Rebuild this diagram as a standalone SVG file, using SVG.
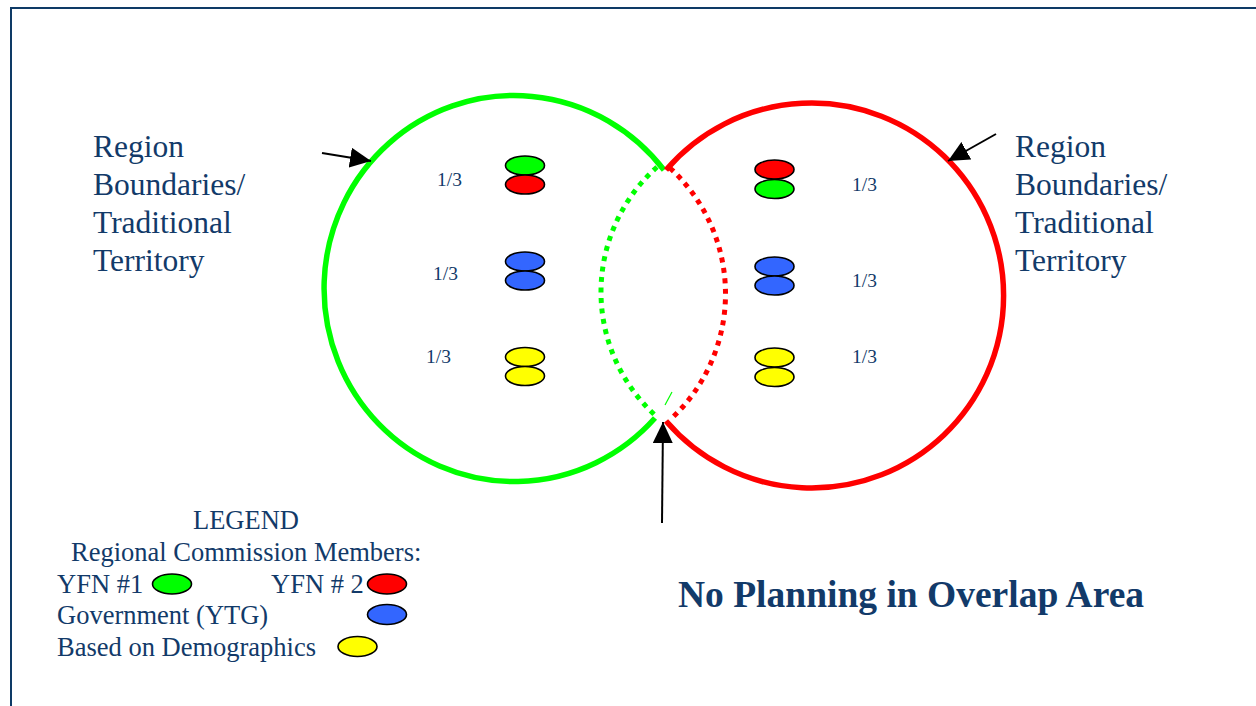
<svg xmlns="http://www.w3.org/2000/svg" width="1256" height="706" viewBox="0 0 1256 706">
<style>
.t{font-family:"Liberation Serif","Times New Roman",serif;fill:#123a69}
.lbl{font-size:31.5px}
.frac{font-size:19.5px}
.leg{font-size:26.5px}
.big{font-size:37.5px;font-weight:bold}
.mem{stroke:#000;stroke-width:1.6}
.g{fill:#00ff00}.r{fill:#ff0000}.b{fill:#3366ff}.y{fill:#ffff00}
.arrow{stroke:#000;stroke-width:2;fill:none;marker-end:url(#ah)}
</style>
<defs>
<marker id="ah" markerUnits="userSpaceOnUse" markerWidth="22" markerHeight="20" refX="21" refY="10" orient="auto">
<path d="M0,0 L21,10 L0,20 z" fill="#000"/>
</marker>
</defs>
<rect width="1256" height="706" fill="#fff"/>
<g id="frame" stroke="#0e3a66" stroke-width="2" fill="none">
<path d="M11,706 L11,8 L1256,8"/>
</g>
<g id="region-left">
<path d="M664,170 A190,193 0 1 0 655,418" fill="none" stroke="#00ff00" stroke-width="5.5"/>
</g>
<g id="region-right">
<path d="M666,170 A192,192.5 0 1 1 666,421" fill="none" stroke="#ff0000" stroke-width="5.5"/>
</g>
<g id="overlap">
<path d="M657,167 A167.5,167.5 0 0 0 657,417" fill="none" stroke="#00ff00" stroke-width="5" stroke-dasharray="5 5.5"/>
<path d="M670,168 A170.6,170.6 0 0 1 672,418" fill="none" stroke="#ff0000" stroke-width="5" stroke-dasharray="5 5.5"/>
<path d="M665,405 L672,392" stroke="#00ff00" stroke-width="1.2"/>
</g>
<g id="members-left">
<ellipse class="mem g" cx="525" cy="165.5" rx="19.5" ry="9.5"/>
<ellipse class="mem r" cx="525" cy="184.5" rx="19.5" ry="9.5"/>
<ellipse class="mem b" cx="525" cy="261.5" rx="19.5" ry="9.5"/>
<ellipse class="mem b" cx="525" cy="280.5" rx="19.5" ry="9.5"/>
<ellipse class="mem y" cx="525" cy="357" rx="19.5" ry="9.5"/>
<ellipse class="mem y" cx="525" cy="376" rx="19.5" ry="9.5"/>
<text class="t frac" x="437" y="186">1/3</text>
<text class="t frac" x="433" y="280">1/3</text>
<text class="t frac" x="426" y="363">1/3</text>
</g>
<g id="members-right">
<ellipse class="mem r" cx="774.5" cy="169.5" rx="19.5" ry="9.5"/>
<ellipse class="mem g" cx="774.5" cy="189" rx="19.5" ry="9.5"/>
<ellipse class="mem b" cx="774.5" cy="266.5" rx="19.5" ry="9.5"/>
<ellipse class="mem b" cx="774.5" cy="285.5" rx="19.5" ry="9.5"/>
<ellipse class="mem y" cx="774.5" cy="357.5" rx="19.5" ry="9.5"/>
<ellipse class="mem y" cx="774.5" cy="377" rx="19.5" ry="9.5"/>
<text class="t frac" x="852" y="191">1/3</text>
<text class="t frac" x="852" y="287">1/3</text>
<text class="t frac" x="852" y="363">1/3</text>
</g>
<g id="label-left">
<text class="t lbl" x="93" y="157">Region</text>
<text class="t lbl" x="93" y="195">Boundaries/</text>
<text class="t lbl" x="93" y="233">Traditional</text>
<text class="t lbl" x="93" y="271">Territory</text>
</g>
<g id="label-right">
<text class="t lbl" x="1015" y="157">Region</text>
<text class="t lbl" x="1015" y="195">Boundaries/</text>
<text class="t lbl" x="1015" y="233">Traditional</text>
<text class="t lbl" x="1015" y="271">Territory</text>
</g>
<g id="connectors">
<line class="arrow" x1="322" y1="153" x2="371" y2="161"/>
<line class="arrow" x1="996" y1="134" x2="948" y2="161"/>
<line class="arrow" x1="662" y1="523" x2="663" y2="422"/>
</g>
<g id="legend">
<text class="t leg" x="193" y="529">LEGEND</text>
<text class="t leg" x="71" y="561">Regional Commission Members:</text>
<text class="t leg" x="57" y="593">YFN #1</text>
<ellipse class="mem g" cx="172" cy="584" rx="19.5" ry="10"/>
<text class="t leg" x="271" y="593">YFN # 2</text>
<ellipse class="mem r" cx="387" cy="584" rx="19.5" ry="10"/>
<text class="t leg" x="57" y="624">Government (YTG)</text>
<ellipse class="mem b" cx="387" cy="614.5" rx="19.5" ry="10"/>
<text class="t leg" x="57" y="656">Based on Demographics</text>
<ellipse class="mem y" cx="357.5" cy="646.5" rx="19.5" ry="10"/>
</g>
<g id="note">
<text class="t big" x="678" y="607">No Planning in Overlap Area</text>
</g>
</svg>
